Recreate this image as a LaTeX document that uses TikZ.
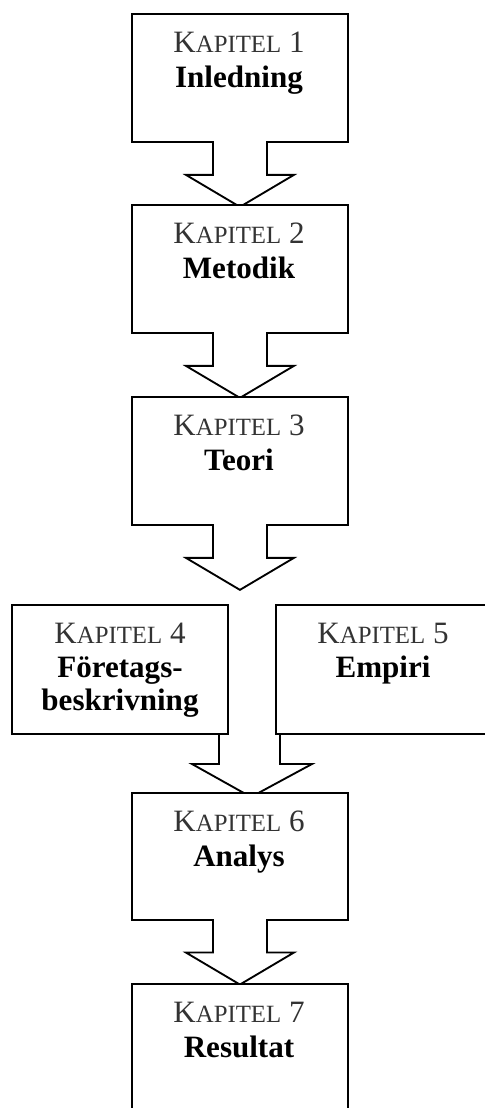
\documentclass[tikz,border=0pt]{standalone}
\usepackage{fontspec}
\setmainfont{Liberation Serif}
\usetikzlibrary{calc}

% "KAPITEL n" with a large K and small-cap letters
\newcommand{\kapitel}[1]{K{\fontsize{18.6}{21}\selectfont APITEL}~#1}

% Down-pointing arrow hanging from the bottom of a chapter box
\newcommand{\chaparrow}[1]{%
  \fill[white] ($(#1.south)+(-26,-2)$) rectangle ($(#1.south)+(26,2)$);
  \draw[flow] ($(#1.south)+(-27,0)$) -- ++(0,32) -- ++(-27,0) -- ++(54,32)
        -- ++(54,-32) -- ++(-27,0) -- ++(0,-32);}

\begin{document}
\begin{tikzpicture}[x=0.75pt,y=-0.75pt,line width=1.4pt,
  chapbox/.style={draw,fill=white,anchor=north west,inner sep=0pt,
                  minimum width=162pt,minimum height=96pt},
  flow/.style={line join=miter},
  kap/.style={anchor=base,text=black!80,font=\fontsize{23.3}{27}\selectfont},
  ttl/.style={anchor=base,font=\fontsize{23.3}{27}\selectfont\bfseries}]
\useasboundingbox (0,0) rectangle (485,1108);
\clip (0,0) rectangle (485,1108);

% Chapter 1
\node[chapbox] (k1) at (131,13) {};
\node[kap] (k1a) at (239,52) {\kapitel{1}};
\node[ttl] (k1b) at (239,87) {Inledning};
\chaparrow{k1}

% Chapter 2
\node[chapbox] (k2) at (131,204) {};
\node[kap] (k2a) at (239,243) {\kapitel{2}};
\node[ttl] (k2b) at (239,278) {Metodik};
\chaparrow{k2}

% Chapter 3
\node[chapbox] (k3) at (131,396) {};
\node[kap] (k3a) at (239,435) {\kapitel{3}};
\node[ttl] (k3b) at (239,470) {Teori};
\chaparrow{k3}

% Shared arrow from chapters 4 and 5 down to chapter 6 (its top sits behind the boxes)
\coordinate (m4) at (219,720);
\coordinate (m5) at (280,720);
\fill[white] (m4) -- ++(0,44) -- ++(-27,0) -- (251,797)
      -- (312,764) -- ($(m5)+(0,44)$) -- (m5) -- cycle;
\draw[flow] (m4) -- ++(0,44) -- ++(-27,0) -- (251,797)
      -- (312,764) -- ($(m5)+(0,44)$) -- (m5);

% Chapter 4
\node[chapbox,minimum height=96.75pt] (k4) at (11,604) {};
\node[kap] (k4a) at (120,643) {\kapitel{4}};
\node[ttl] (k4b) at (120,677) {Företags-};
\node[ttl] (k4c) at (120,710) {beskrivning};

% Chapter 5
\node[chapbox,minimum height=96.75pt] (k5) at (275,604) {};
\node[kap] (k5a) at (383,643) {\kapitel{5}};
\node[ttl] (k5b) at (383,677) {Empiri};

% Chapter 6
\node[chapbox,minimum height=95pt] (k6) at (131,792) {};
\node[kap] (k6a) at (239,831) {\kapitel{6}};
\node[ttl] (k6b) at (239,866) {Analys};
\chaparrow{k6}

% Chapter 7
\node[chapbox,minimum height=105pt] (k7) at (131,983) {};
\node[kap] (k7a) at (239,1022) {\kapitel{7}};
\node[ttl] (k7b) at (239,1057) {Resultat};
\end{tikzpicture}
\end{document}
